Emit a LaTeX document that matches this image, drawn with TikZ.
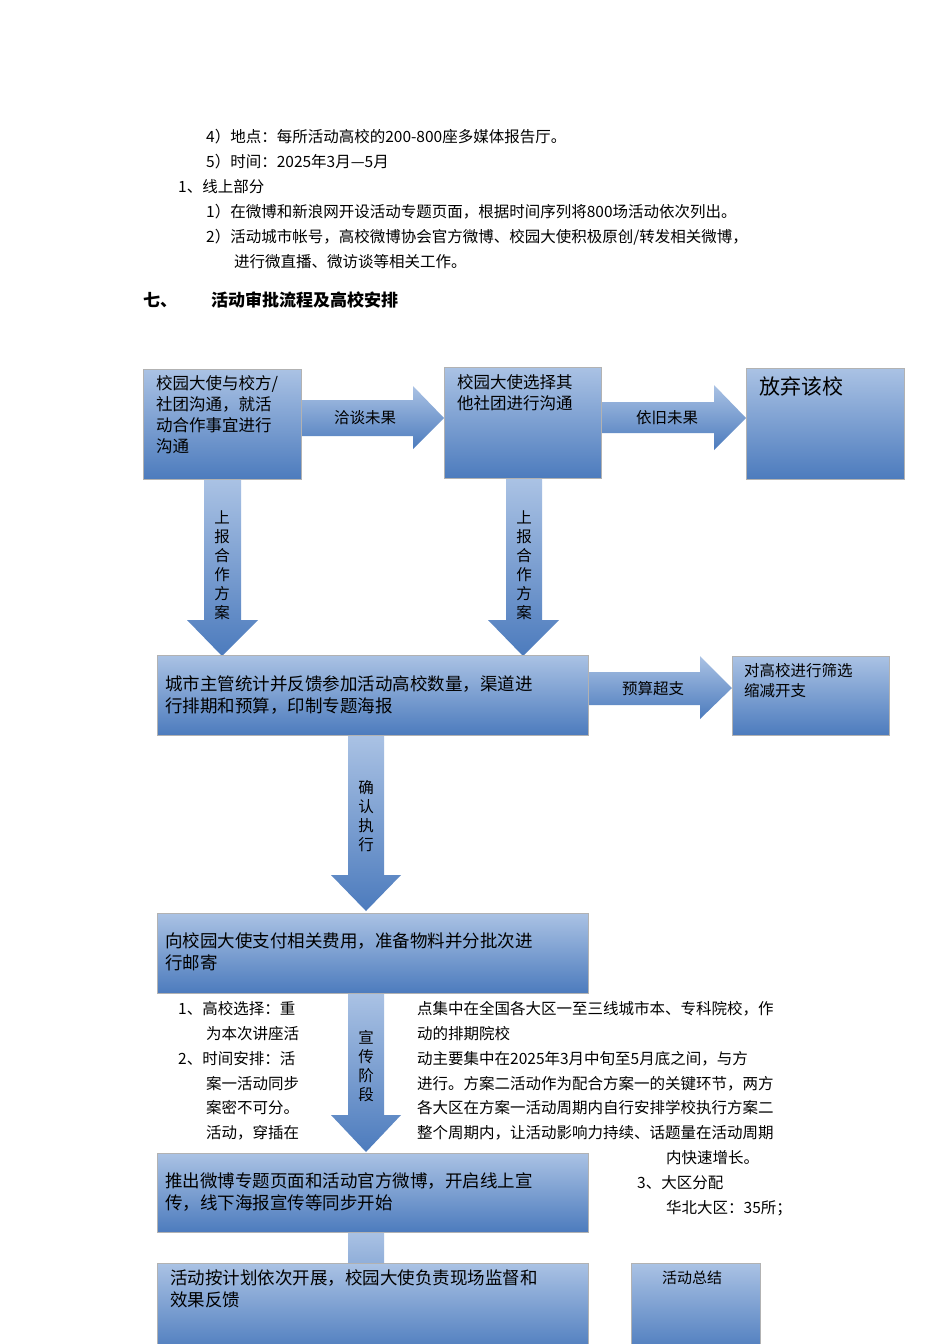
\documentclass[tikz,border=0pt]{standalone}
\usepackage{fontspec}
\setmainfont{Noto Sans CJK SC}
\usetikzlibrary{calc}
\begin{document}
\begin{tikzpicture}[x=1pt,y=-1pt,
  body/.style={anchor=west,inner sep=0pt,font=\fontsize{15.5}{17}\selectfont},
  bt/.style={anchor=north west,inner sep=0pt,align=left,font=\fontsize{16.5}{21}\selectfont},
  lab/.style={inner sep=0pt,font=\fontsize{15.5}{19}\selectfont,align=center}]
\useasboundingbox (0,0) rectangle (950,1344);
\fill[white] (0,0) rectangle (950,1344);
\tikzset{bx/.style={draw=black!30,line width=0.8pt,top color={rgb,255:red,170;green,194;blue,228},bottom color={rgb,255:red,76;green,123;blue,189},anchor=north west,inner sep=0pt},
 ar/.style={top color={rgb,255:red,170;green,194;blue,228},bottom color={rgb,255:red,76;green,123;blue,189}}}
% body text
\node[body] (t1) at (206,137) {4）地点：每所活动高校的200-800座多媒体报告厅。};
\node[body] (t2) at (206,162) {5）时间：2025年3月—5月};
\node[body] (t3) at (178,187) {1、线上部分};
\node[body] (t4) at (206,212) {1）在微博和新浪网开设活动专题页面，根据时间序列将800场活动依次列出。};
\node[body] (t5) at (206,237) {2）活动城市帐号，高校微博协会官方微博、校园大使积极原创/转发相关微博，};
\node[body] (t6) at (234,262) {进行微直播、微访谈等相关工作。};
\node[body,font=\fontsize{17}{19}\selectfont\bfseries] (h1) at (143,300) {七、};
\node[body,font=\fontsize{17}{19}\selectfont\bfseries] (h2) at (211,300) {活动审批流程及高校安排};
% arrows behind
\path[ar] (301,400) -- (413,400) -- (413,386) -- (444,418) -- (413,449) -- (413,436) -- (301,436) -- cycle;
\path[ar] (601,402) -- (714,402) -- (714,385) -- (746,418) -- (714,450) -- (714,433) -- (601,433) -- cycle;
\path[ar] (204,479) -- (241,479) -- (241,620) -- (258,620) -- (222,656) -- (187,620) -- (204,620) -- cycle;
\path[ar] (506,479) -- (542,479) -- (542,620) -- (559,620) -- (523,656) -- (488,620) -- (506,620) -- cycle;
\path[ar] (588,672) -- (700,672) -- (700,656) -- (732,688) -- (700,719) -- (700,705) -- (588,705) -- cycle;
\path[ar] (348,735) -- (384,735) -- (384,875) -- (401,875) -- (366,911) -- (331,875) -- (348,875) -- cycle;
\path[ar] (348,993) -- (384,993) -- (384,1115) -- (401,1115) -- (366,1152) -- (331,1115) -- (348,1115) -- cycle;
\path[ar] (348,1232) -- (384,1232) -- (384,1344) -- (348,1344) -- cycle;
% boxes
\node[bx,minimum width=158,minimum height=110] (b1) at (143,369) {};
\node[bx,minimum width=157,minimum height=111] (b2) at (444,367) {};
\node[bx,minimum width=158,minimum height=111] (b3) at (746,368) {};
\node[bx,minimum width=431,minimum height=80] (b4) at (157,655) {};
\node[bx,minimum width=157,minimum height=79] (b5) at (732,656) {};
\node[bx,minimum width=431,minimum height=80] (b6) at (157,913) {};
\node[bx,minimum width=431,minimum height=79] (b7) at (157,1153) {};
\node[bx,minimum width=431,minimum height=90] (b8) at (157,1263) {};
\node[bx,minimum width=129,minimum height=90] (b9) at (631,1263) {};
% box texts
\node[bt] (bt1) at ($(b1.north west)+(13,6)$) {校园大使与校方/\\社团沟通，就活\\动合作事宜进行\\沟通};
\node[bt] (bt2) at ($(b2.north west)+(13,7)$) {校园大使选择其\\他社团进行沟通};
\node[bt,font=\fontsize{21}{24}\selectfont] (bt3) at ($(b3.north west)+(13,8)$) {放弃该校};
\node[bt,font=\fontsize{17.5}{22}\selectfont] (bt4) at ($(b4.north west)+(8,20)$) {城市主管统计并反馈参加活动高校数量，渠道进\\行排期和预算，印制专题海报};
\node[bt,font=\fontsize{15.5}{20}\selectfont] (bt5) at ($(b5.north west)+(12,7)$) {对高校进行筛选\\缩减开支};
\node[bt,font=\fontsize{17.5}{22}\selectfont] (bt6) at ($(b6.north west)+(8,19)$) {向校园大使支付相关费用，准备物料并分批次进\\行邮寄};
\node[bt,font=\fontsize{17.5}{22}\selectfont] (bt7) at ($(b7.north west)+(8,19)$) {推出微博专题页面和活动官方微博，开启线上宣\\传，线下海报宣传等同步开始};
\node[bt,font=\fontsize{17.5}{22}\selectfont] (bt8) at ($(b8.north west)+(13,6)$) {活动按计划依次开展，校园大使负责现场监督和\\效果反馈};
\node[bt,font=\fontsize{15}{18}\selectfont] (bt9) at ($(b9.north west)+(31,8)$) {活动总结};
% arrow labels
\node[lab] (l1) at (365,418) {洽谈未果};
\node[lab] (l2) at (667,418) {依旧未果};
\node[lab] (l3) at (653,689) {预算超支};
\node[lab] (l4) at (222,565) {上\\报\\合\\作\\方\\案};
\node[lab] (l5) at (524,565) {上\\报\\合\\作\\方\\案};
\node[lab] (l6) at (366,816) {确\\认\\执\\行};
\node[lab] (l7) at (366,1066) {宣\\传\\阶\\段};
% lower text
\node[body] (u1) at (178,1009) {1、高校选择：重};
\node[body] (u2) at (206,1034) {为本次讲座活};
\node[body] (u3) at (178,1059) {2、时间安排：活};
\node[body] (u4) at (206,1084) {案一活动同步};
\node[body] (u5) at (206,1108) {案密不可分。};
\node[body] (u6) at (206,1133) {活动，穿插在};
\node[body] (v1) at (417,1009) {点集中在全国各大区一至三线城市本、专科院校，作};
\node[body] (v2) at (417,1034) {动的排期院校};
\node[body] (v3) at (417,1059) {动主要集中在2025年3月中旬至5月底之间，与方};
\node[body] (v4) at (417,1084) {进行。方案二活动作为配合方案一的关键环节，两方};
\node[body] (v5) at (417,1108) {各大区在方案一活动周期内自行安排学校执行方案二};
\node[body] (v6) at (417,1133) {整个周期内，让活动影响力持续、话题量在活动周期};
\node[body] (v7) at (666,1158) {内快速增长。};
\node[body] (v8) at (637,1183) {3、大区分配};
\node[body] (v9) at (666,1208) {华北大区：35所；};
\end{tikzpicture}
\end{document}
